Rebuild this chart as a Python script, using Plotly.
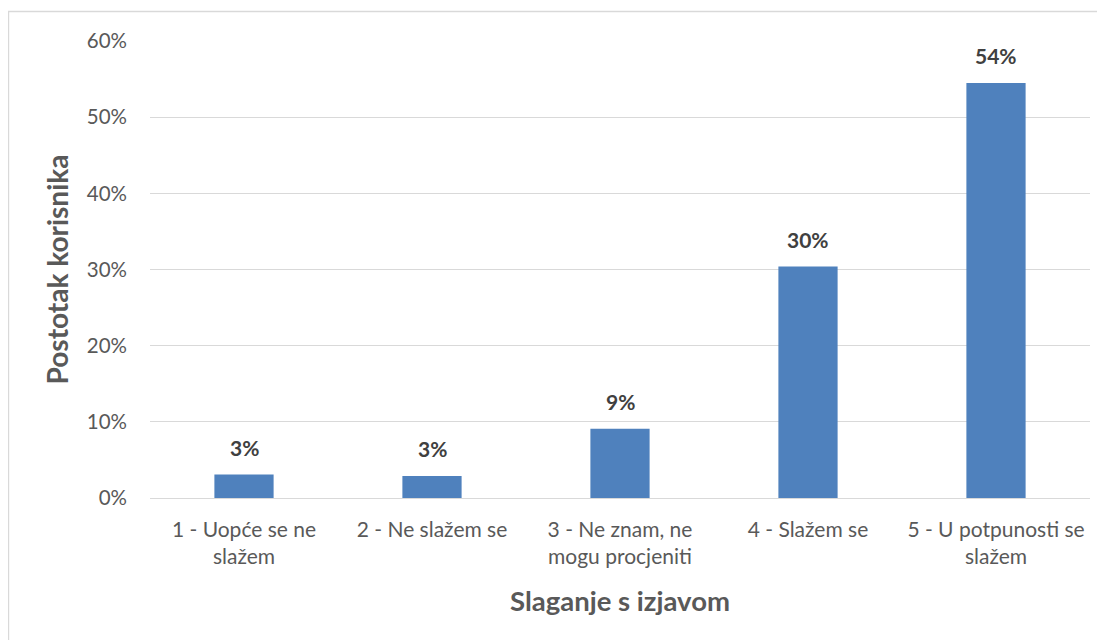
import plotly.graph_objects as go

categories = ["1 - Uopće se ne<br>slažem", "2 - Ne slažem se", "3 - Ne znam, ne<br>mogu procjeniti",
              "4 - Slažem se", "5 - U potpunosti se<br>slažem"]
values = [0.031, 0.029, 0.091, 0.304, 0.545]
labels = ["3%", "3%", "9%", "30%", "54%"]
y_ticks = [0, 0.1, 0.2, 0.3, 0.4, 0.5, 0.6]

FONT = "Lato, 'Open Sans', sans-serif"

fig = go.Figure()
fig.add_trace(go.Bar(x=categories, y=values, marker=dict(color="#4f81bd", line=dict(width=0)),
                     width=0.315, hoverinfo="skip"))

for c, v, t in zip(categories, values, labels):
    fig.add_annotation(x=c, y=v, text="<b>" + t + "</b>", showarrow=False, yshift=27,
                       font=dict(family=FONT, size=21, color="#404040"))

fig.update_layout(
    width=1105, height=640,
    margin=dict(l=142, r=23, t=33, b=150),
    paper_bgcolor="white", plot_bgcolor="white",
    showlegend=False,
    font=dict(family=FONT, size=18, color="#595959"),
    xaxis=dict(title=dict(text="<b>Slaganje s izjavom</b>", font=dict(size=27.5, color="#595959"), standoff=24),
               tickfont=dict(size=21, color="#595959"), showgrid=False, showline=False, ticks="",
               ticklabelstandoff=17, automargin=False),
    yaxis=dict(title=dict(text="<b>Postotak korisnika</b>", font=dict(size=28, color="#595959"), standoff=9),
               range=[0, 0.6], tickvals=y_ticks, tickformat=".0%",
               tickfont=dict(size=20.5, color="#595959"),
               showgrid=True, gridcolor="#d9d9d9", gridwidth=1.3, zeroline=True, zerolinecolor="#d9d9d9",
               zerolinewidth=1.3, ticks="", ticklabelstandoff=22, automargin=False),
    shapes=[dict(type="rect", xref="paper", yref="paper", x0=-0.1505, x1=1.1, y0=-0.5, y1=1.0646,
                 line=dict(color="#d9d9d9", width=1.3), layer="below")],
)

fig.write_html("out.html")
